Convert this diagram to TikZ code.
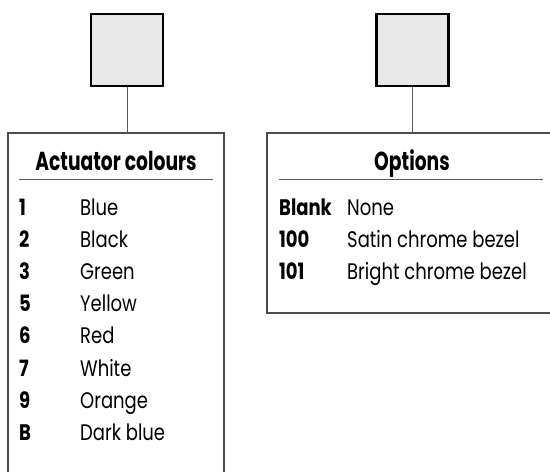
\documentclass[tikz,border=0pt]{standalone}
\usepackage{fontspec}
\setmainfont[FakeStretch=0.8]{Poppins}
\newfontfamily\ttlfont[FakeStretch=0.72]{Poppins}
\begin{document}
\begin{tikzpicture}[x=1pt,y=-1pt,
  sq/.style={draw=black,line width=2.4pt,fill=gray!18,minimum size=72pt,inner sep=0pt},
  conn/.style={draw=gray!70!black,line width=1pt},
  frame/.style={draw=gray!60!black,line width=1.1pt},
  sep/.style={draw=gray!70!black,line width=0.8pt},
  ttl/.style={font=\ttlfont\fontsize{26}{26}\selectfont\bfseries,anchor=base,inner sep=0pt},
  num/.style={font=\fontsize{22.5}{22.5}\selectfont\bfseries,anchor=base west,inner sep=0pt},
  lbl/.style={font=\fontsize{22.5}{22.5}\selectfont,anchor=base west,inner sep=0pt}]
\useasboundingbox (0,0) rectangle (550,472);
% squares
\node[sq] (s1) at (127,50) {};
\node[sq] (s2) at (412.5,50) {};
\coordinate (t1) at (127,133);
\coordinate (t2) at (412.5,133);
\draw[conn] (s1.south) -- (t1);
\draw[conn] (s2.south) -- (t2);
% boxes
\draw[frame] (8,475) -- (8,133) -- (224,133) -- (224,475);
\draw[frame] (553,133) -- (267,133) -- (267,313) -- (553,313);
% titles
\node[ttl] (h1) at (116,170) {Actuator colours};
\node[ttl] (h2) at (412,170) {Options};
\coordinate (a1) at (19,179); \coordinate (a2) at (213,179);
\coordinate (b1) at (279,179); \coordinate (b2) at (543,179);
\draw[sep] (a1) -- (a2);
\draw[sep] (b1) -- (b2);
% left rows
\foreach \n/\c [count=\i from 0] in {1/Blue,2/Black,3/Green,5/Yellow,6/Red,7/White,9/Orange,B/Dark blue}{
  \node[num] (ln\i) at (19,{215+32.2*\i}) {\n};
  \node[lbl] (lc\i) at (80,{215+32.2*\i}) {\c};
}
% right rows
\foreach \n/\c [count=\i from 0] in {Blank/None,100/Satin chrome bezel,101/Bright chrome bezel}{
  \node[num] (rn\i) at (279,{215+32.2*\i}) {\n};
  \node[lbl] (rc\i) at (347,{215+32.2*\i}) {\c};
}
\end{tikzpicture}
\end{document}
